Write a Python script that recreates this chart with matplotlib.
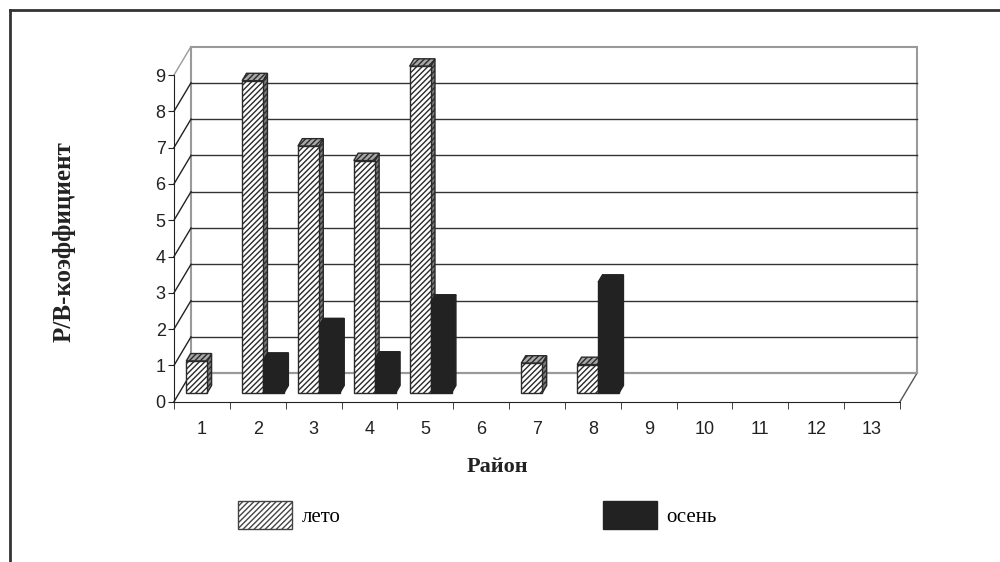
import numpy as np
import matplotlib
matplotlib.use("Agg")
import matplotlib.pyplot as plt
from matplotlib.patches import Polygon, Patch
from matplotlib.lines import Line2D

# data (front-face heights)
rayon = np.arange(1, 14)
leto = [0.88, 8.6, 6.8, 6.4, 9.0, 0, 0.82, 0.78, 0, 0, 0, 0, 0]
osen = [0, 0.9, 1.85, 0.93, 2.5, 0, 0, 3.05, 0, 0, 0, 0, 0]
y_ticks = list(range(10))

plt.rcParams['hatch.linewidth'] = 1.0
plt.rcParams['font.family'] = ['Liberation Sans', 'DejaVu Sans']

# depth of the fake 3D box, in data units (x per category, y per value)
DX = 0.304
DY = 0.785
F0 = 0.31     # depth where bars start
FD = 0.26     # bar depth
BW = 0.375    # bar width

fig = plt.figure(figsize=(10, 5.62), dpi=100)
ax = fig.add_axes([0.174, 0.2852, 0.726, 0.5813])
ax.set_xlim(0.5, 13.5)
ax.set_ylim(0, 9)

x0, x1 = 0.5, 13.5
grey = '#9a9a9a'

# back wall
ax.add_patch(Polygon([(x0 + DX, DY), (x1 + DX, DY), (x1 + DX, 9 + DY), (x0 + DX, 9 + DY)],
                     closed=True, facecolor='white', edgecolor=grey, lw=1.5, clip_on=False, zorder=1))
# floor right edge
ax.plot([x1, x1 + DX], [0, DY], color='#555', lw=1, clip_on=False, zorder=1)
# grid on back wall and diagonals on left wall
for v in y_ticks:
    if 0 < v < 9:
        ax.plot([x0 + DX, x1 + DX], [v + DY, v + DY], color='#333', lw=1, clip_on=False, zorder=1.2)
    ax.plot([x0, x0 + DX], [v, v + DY], color=grey if v == 9 else '#222', lw=1,
            clip_on=False, zorder=1.2)
ax.plot([x0 + DX, x1 + DX], [DY, DY], color=grey, lw=1.5, clip_on=False, zorder=1.2)


def face(pts, fc, ec, hatch=None, z=3):
    ax.add_patch(Polygon(pts, closed=True, facecolor=fc, edgecolor=ec, hatch=hatch,
                         lw=1, clip_on=False, zorder=z))


def bar3d(xl, h, dark):
    bx, by = xl + F0 * DX, F0 * DY
    ox, oy = FD * DX, FD * DY
    front = [(bx, by), (bx + BW, by), (bx + BW, by + h), (bx, by + h)]
    top = [(bx, by + h), (bx + BW, by + h), (bx + BW + ox, by + h + oy), (bx + ox, by + h + oy)]
    side = [(bx + BW, by), (bx + BW + ox, by + oy), (bx + BW + ox, by + h + oy), (bx + BW, by + h)]
    if dark:
        face(side, '#222', '#222')
        face(top, '#222', '#222')
        face(front, '#222', '#222')
    else:
        face(side, '#7a7a7a', '#2a2a2a', '//////')
        face(top, '#a8a8a8', '#2a2a2a', '//////')
        face(front, 'white', '#2a2a2a', '//////')


for i, r in enumerate(rayon):
    if leto[i] > 0:
        bar3d(r - BW, leto[i], False)
    if osen[i] > 0:
        bar3d(r, osen[i], True)

# front axes
for s in ['top', 'right']:
    ax.spines[s].set_visible(False)
ax.spines['left'].set_color('#222')
ax.spines['bottom'].set_color('#222')
ax.set_yticks(y_ticks)
ax.tick_params(axis='y', length=4, color='#222', labelsize=13, pad=2, labelcolor='#222')
ax.set_xticks(rayon)
ax.set_xticklabels([str(r) for r in rayon])
ax.set_xticks(np.arange(0.5, 14, 1), minor=True)
ax.tick_params(axis='x', which='major', length=0, labelsize=13, pad=14, labelcolor='#222')
ax.tick_params(axis='x', which='minor', length=5, color='#222')

fig.text(0.064, 1 - 242 / 562, 'Р/В-коэффициент', rotation=90, ha='center', va='center',
         fontsize=18, fontweight='bold', family='Liberation Serif', color='#222')
fig.text(0.497, 1 - 467 / 562, 'Район', ha='center', va='center',
         fontsize=16, fontweight='bold', family='Liberation Serif', color='#222')

handles = [Patch(facecolor='white', edgecolor='#444', hatch='//////', label='лето'),
           Patch(facecolor='#222', edgecolor='#222', label='осень')]
fig.legend(handles=handles, loc='center left', bbox_to_anchor=(0.238, 1 - 515 / 562),
           ncol=2, frameon=False, borderpad=0, borderaxespad=0,
           handlelength=2.6, handleheight=1.7, handletextpad=0.45, columnspacing=12.6,
           prop={'family': 'Liberation Serif', 'size': 15})

# outer frame (only top and left visible)
fig.add_artist(Line2D([0.01, 1.0], [1 - 10 / 562, 1 - 10 / 562], color='#333', lw=2))
fig.add_artist(Line2D([0.01, 0.01], [0, 1 - 10 / 562], color='#333', lw=2))

fig.savefig('out.png', dpi=100)
